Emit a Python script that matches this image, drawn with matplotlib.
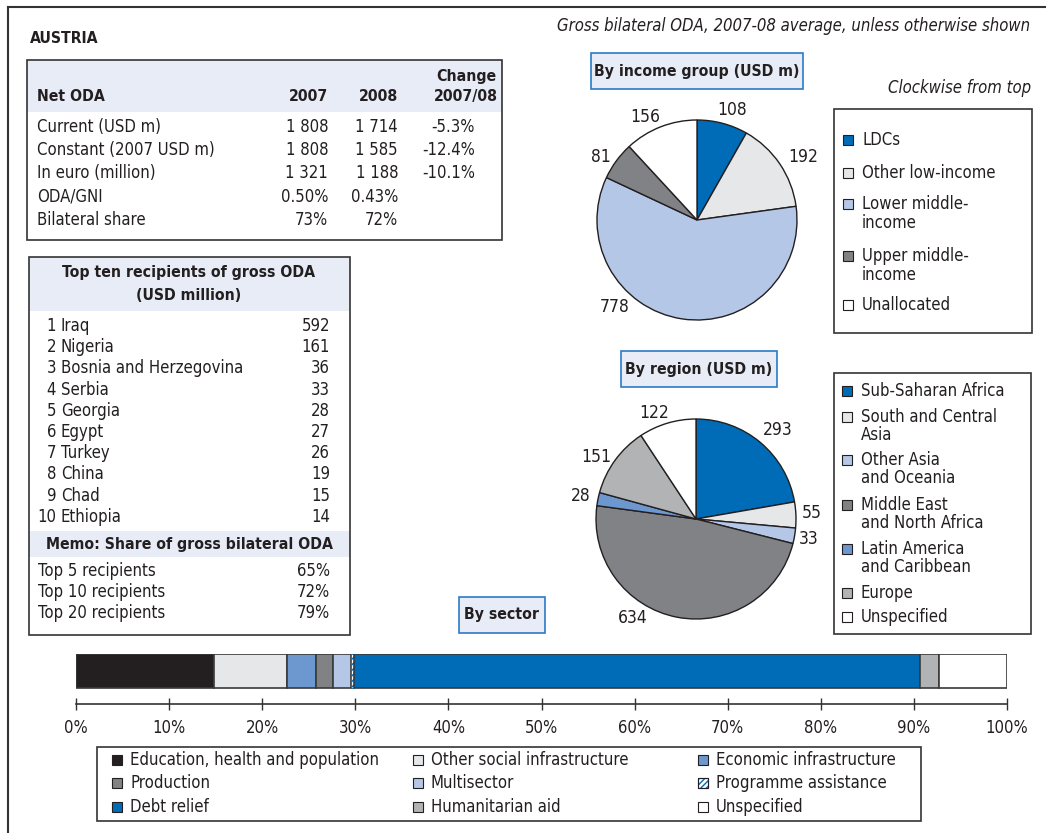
import matplotlib
matplotlib.use("Agg")
import matplotlib.pyplot as plt
from matplotlib.patches import Rectangle

plt.rcParams['font.family'] = ['Liberation Sans Narrow', 'DejaVu Sans']
plt.rcParams['font.stretch'] = 'condensed'

# ----- Data -----
oda_rows = ["Current (USD m)", "Constant (2007 USD m)", "In euro (million)", "ODA/GNI", "Bilateral share"]
oda_2007 = ["1 808", "1 808", "1 321", "0.50%", "73%"]
oda_2008 = ["1 714", "1 585", "1 188", "0.43%", "72%"]
oda_change = ["-5.3%", "-12.4%", "-10.1%", "", ""]

recipients = ["Iraq", "Nigeria", "Bosnia and Herzegovina", "Serbia", "Georgia",
              "Egypt", "Turkey", "China", "Chad", "Ethiopia"]
recipient_usd = [592, 161, 36, 33, 28, 27, 26, 19, 15, 14]
memo_labels = ["Top 5 recipients", "Top 10 recipients", "Top 20 recipients"]
memo_share = ["65%", "72%", "79%"]

income_groups = ["LDCs", "Other low-income", "Lower middle-\nincome", "Upper middle-\nincome", "Unallocated"]
income_usd = [108, 192, 778, 81, 156]

regions = ["Sub-Saharan Africa", "South and Central\nAsia", "Other Asia\nand Oceania",
           "Middle East\nand North Africa", "Latin America\nand Caribbean", "Europe", "Unspecified"]
region_usd = [293, 55, 33, 634, 28, 151, 122]

sectors = ["Education, health and population", "Other social infrastructure", "Economic infrastructure",
           "Production", "Multisector", "Programme assistance",
           "Debt relief", "Humanitarian aid", "Unspecified"]
sector_pct = [14.8, 7.9, 3.1, 1.8, 1.9, 0.4, 60.8, 2.0, 7.3]

# ----- Style -----
BLUE = '#006bb6'
LGRAY = '#e6e7e8'
LBLUE = '#b4c7e7'
MGRAY = '#808285'
MBLUE = '#6d97cf'
EGRAY = '#b2b3b5'
BLACK = '#231f20'
HEAD = '#e8ecf7'
EDGE = '#333333'
TBLUE = '#2b7bc8'

income_colors = [BLUE, LGRAY, LBLUE, MGRAY, 'white']
region_colors = [BLUE, LGRAY, LBLUE, MGRAY, MBLUE, EGRAY, 'white']
sector_colors = [BLACK, LGRAY, MBLUE, MGRAY, LBLUE, 'white', BLUE, EGRAY, 'white']
sector_hatch = [None, None, None, None, None, '//////', None, None, None]

# label centres in pie radius units
income_label_xy = [(0.35, 1.10), (1.06, 0.63), (-0.82, -0.87), (-0.96, 0.63), (-0.52, 1.03)]
region_label_xy = [(0.82, 0.89), (1.16, 0.06), (1.13, -0.20), (-0.63, -0.99),
                   (-1.15, 0.23), (-1.00, 0.62), (-0.42, 1.06)]

W, H = 1046, 833
FS = 12      # regular text
FB = 11.3    # bold headers
FP = 12.5    # pie labels

fig = plt.figure(figsize=(W / 100, H / 100), dpi=100)

# overlay axes in pixel coordinates
ax0 = fig.add_axes([0, 0, 1, 1])
ax0.set_xlim(0, W)
ax0.set_ylim(H, 0)
ax0.axis('off')


def px_axes(x0, y0, x1, y1):
    return fig.add_axes([x0 / W, 1 - y1 / H, (x1 - x0) / W, (y1 - y0) / H])


def box(x0, y0, x1, y1, fc='none', ec=EDGE, lw=1.2):
    ax0.add_patch(Rectangle((x0, y0), x1 - x0, y1 - y0, facecolor=fc, edgecolor=ec, linewidth=lw))


def txt(x, y, s, **kw):
    kw.setdefault('fontsize', FS)
    kw.setdefault('va', 'center')
    kw.setdefault('color', BLACK)
    ax0.text(x, y, s, **kw)


def btxt(x, y, s, **kw):
    kw.setdefault('fontsize', FB)
    txt(x, y, s, fontweight='bold', **kw)


def swatch(cx, cy, color, hatch=None):
    ax0.add_patch(Rectangle((cx - 5, cy - 5), 10, 10, facecolor=color,
                            edgecolor=BLUE if hatch else BLACK, hatch=hatch, linewidth=0.8))
    if hatch:
        ax0.add_patch(Rectangle((cx - 5, cy - 5), 10, 10, facecolor='none', edgecolor=BLACK, linewidth=0.8))


# outer frame
ax0.plot([8, W], [7, 7], color=EDGE, lw=1.5)
ax0.plot([8, 8], [7, H], color=EDGE, lw=1.5)

btxt(30, 38, "AUSTRIA")
txt(1030, 26, "Gross bilateral ODA, 2007-08 average, unless otherwise shown", ha='right', style='italic')

# ----- Net ODA table -----
box(27, 60, 502, 112, fc=HEAD, ec='none')
box(27, 60, 502, 240)
btxt(37, 96, "Net ODA")
btxt(328, 96, "2007", ha='right')
btxt(398, 96, "2008", ha='right')
btxt(466, 76, "Change", ha='center')
btxt(466, 96, "2007/08", ha='center')
for i, lab in enumerate(oda_rows):
    y = 127 + i * 23.2
    txt(37, y, lab)
    txt(328, y, oda_2007[i], ha='right')
    txt(398, y, oda_2008[i], ha='right')
    txt(475, y, oda_change[i], ha='right')

# ----- Top ten recipients table -----
box(29, 257, 350, 311, fc=HEAD, ec='none')
box(29, 531, 350, 557, fc=HEAD, ec='none')
box(29, 257, 350, 635)
btxt(189, 273, "Top ten recipients of gross ODA", ha='center')
btxt(189, 295, "(USD million)", ha='center')
for i, name in enumerate(recipients):
    y = 326 + i * 21.2
    txt(56, y, str(i + 1), ha='right')
    txt(61, y, name)
    txt(330, y, str(recipient_usd[i]), ha='right')
btxt(189, 544, "Memo: Share of gross bilateral ODA", ha='center')
for i, lab in enumerate(memo_labels):
    y = 571 + i * 21
    txt(38, y, lab)
    txt(330, y, memo_share[i], ha='right')

# ----- Pie: income group -----
box(591, 53, 803, 89, fc=HEAD, ec=TBLUE)
btxt(697, 71, "By income group (USD m)", ha='center')
txt(1031, 88, "Clockwise from top", ha='right', style='italic')

ax1 = px_axes(597, 120, 797, 320)
ax1.pie(income_usd, colors=income_colors, startangle=90, counterclock=False, radius=1,
        wedgeprops=dict(edgecolor=BLACK, linewidth=1))
ax1.set_xlim(-1, 1)
ax1.set_ylim(-1, 1)
for v, (lx, ly) in zip(income_usd, income_label_xy):
    ax1.text(lx, ly, str(v), ha='center', va='center', fontsize=FP, color=BLACK)

box(834, 109, 1032, 333)
income_leg_y = [140, 173, 204, 256, 305]
for lab, col, y in zip(income_groups, income_colors, income_leg_y):
    swatch(848, y, col)
    for k, ln in enumerate(lab.split('\n')):
        txt(862, y + k * 19, ln)

# ----- Pie: region -----
box(621, 351, 777, 387, fc=HEAD, ec=TBLUE)
btxt(699, 369, "By region (USD m)", ha='center')

ax2 = px_axes(596, 419, 796, 619)
ax2.pie(region_usd, colors=region_colors, startangle=90, counterclock=False, radius=1,
        wedgeprops=dict(edgecolor=BLACK, linewidth=1))
ax2.set_xlim(-1, 1)
ax2.set_ylim(-1, 1)
for v, (lx, ly) in zip(region_usd, region_label_xy):
    ax2.text(lx, ly, str(v), ha='center', va='center', fontsize=FP, color=BLACK)

box(834, 373, 1031, 634)
region_leg_y = [391, 417, 460, 505, 549, 593, 617]
for lab, col, y in zip(regions, region_colors, region_leg_y):
    swatch(847, y, col)
    for k, ln in enumerate(lab.split('\n')):
        txt(861, y + k * 18, ln)

# ----- Sector bar -----
box(459, 597, 545, 633, fc=HEAD, ec=TBLUE)
btxt(502, 615, "By sector", ha='center')

ax3 = px_axes(76, 654, 1007, 704)
left = 0
for pct, col, hat in zip(sector_pct, sector_colors, sector_hatch):
    ax3.barh(0, pct, left=left, height=1, align='edge', color=col,
             edgecolor=BLUE if hat else '#3a3a3a', hatch=hat, linewidth=1.2 if not hat else 0.6)
    left += pct
ax3.set_xlim(0, 100)
ax3.set_ylim(-16 / 34, 1)
for s in ['top', 'left', 'right']:
    ax3.spines[s].set_visible(False)
ax3.spines['bottom'].set_color(EDGE)
ax3.spines['bottom'].set_linewidth(1.2)
ax3.set_yticks([])
ax3.set_xticks(range(0, 101, 10))
ax3.set_xticklabels([f"{t}%" for t in range(0, 101, 10)])
ax3.tick_params(axis='x', direction='inout', length=8, width=1, color=EDGE, pad=7,
                labelsize=FS, labelcolor=BLACK)

# sector legend
box(97, 747, 921, 821)
col_x = [117, 418, 703]
row_y = [760, 783, 807]
for i, (lab, col, hat) in enumerate(zip(sectors, sector_colors, sector_hatch)):
    cx = col_x[i % 3]
    cy = row_y[i // 3]
    swatch(cx, cy, col, hat)
    txt(cx + 13, cy, lab)

fig.savefig("out.png", dpi=100)
